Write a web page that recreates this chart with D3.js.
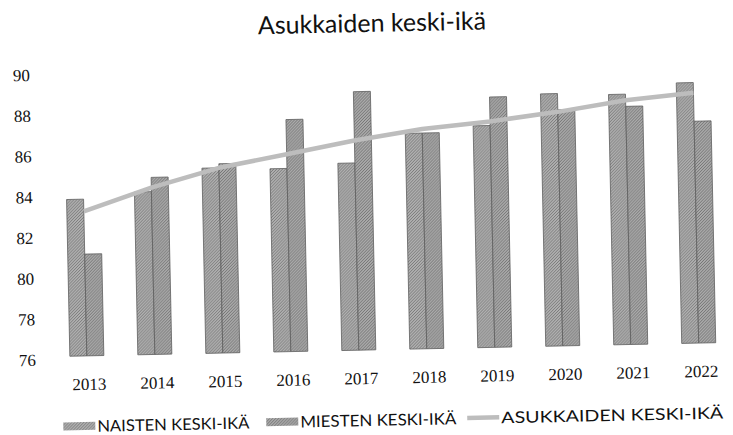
<!DOCTYPE html>
<html>
<head>
<meta charset="utf-8">
<script src="https://cdn.jsdelivr.net/npm/d3@7"></script>
<style>
  html, body { margin: 0; padding: 0; background: #fff; }
  svg { display: block; }
</style>
</head>
<body>
<svg id="chart" width="733" height="435"></svg>
<script>
const title = "Asukkaiden keski-ikä";
const years = ["2013","2014","2015","2016","2017","2018","2019","2020","2021","2022"];
const naisten = [83.7, 84.0, 85.1, 85.0, 85.2, 86.6, 86.9, 88.4, 88.3, 88.8];
const miesten = [81.0, 84.7, 85.3, 87.4, 88.7, 86.6, 88.3, 87.6, 87.7, 86.9];
const asukkaiden = [83.1, 84.2, 85.1, 85.7, 86.3, 86.8, 87.1, 87.5, 88.0, 88.3];
const yTicks = [76, 78, 80, 82, 84, 86, 88, 90];
const seriesNames = ["NAISTEN KESKI-IKÄ", "MIESTEN KESKI-IKÄ", "ASUKKAIDEN KESKI-IKÄ"];

const svg = d3.select("#chart");
// the scanned reference is slightly tilted
const root = svg.append("g").attr("transform", "rotate(-1.2, 366, 217)");

// halftone-like patterns
const defs = svg.append("defs");
function halftone(id, base, dot) {
  const p = defs.append("pattern").attr("id", id).attr("patternUnits", "userSpaceOnUse")
    .attr("width", 3).attr("height", 3);
  p.append("rect").attr("width", 3).attr("height", 3).attr("fill", base);
  p.append("rect").attr("x", 0).attr("y", 0).attr("width", 1).attr("height", 1).attr("fill", dot);
  p.append("rect").attr("x", 2).attr("y", 1).attr("width", 1).attr("height", 1).attr("fill", dot);
  p.append("rect").attr("x", 1).attr("y", 2).attr("width", 1).attr("height", 1).attr("fill", dot);
}
halftone("hN", "#b0b0b0", "#7a7a7a");
halftone("hM", "#aaaaaa", "#747474");

const x = d3.scaleBand().domain(years).range([50, 730]).paddingInner(0.5).paddingOuter(0.25);
const xs = d3.scaleBand().domain([0, 1]).range([0, x.bandwidth()]);
const y = d3.scaleLinear().domain([76, 90]).range([350, 65]);

// title
root.append("text").attr("x", 376).attr("y", 32).attr("text-anchor", "middle")
  .attr("font-family", "Lato, 'Open Sans', sans-serif").attr("font-size", 25)
  .attr("fill", "#111").text(title);

// y axis (labels only)
const yAxis = d3.axisLeft(y).tickValues(yTicks).tickSize(0).tickPadding(0);
const gy = root.append("g").attr("transform", "translate(33,0)").call(yAxis);
gy.select(".domain").remove();
gy.selectAll("text").attr("font-family", "'Liberation Serif', 'DejaVu Serif', serif")
  .attr("font-size", 17).attr("fill", "#111").attr("dy", "0.5em");

// x axis (labels only)
const xAxis = d3.axisBottom(x).tickSize(0).tickPadding(0);
const gx = root.append("g").attr("transform", "translate(2,372)").call(xAxis);
gx.select(".domain").remove();
gx.selectAll("text").attr("font-family", "'Liberation Serif', 'DejaVu Serif', serif")
  .attr("font-size", 17).attr("fill", "#111");

// bars
const series = [
  { values: naisten, idx: 0, fill: "url(#hN)" },
  { values: miesten, idx: 1, fill: "url(#hM)" }
];
series.forEach(s => {
  root.append("g").selectAll("rect").data(years).join("rect")
    .attr("x", d => x(d) + xs(s.idx))
    .attr("width", xs.bandwidth())
    .attr("y", (d, i) => y(s.values[i]))
    .attr("height", (d, i) => y(76) - y(s.values[i]))
    .attr("fill", s.fill)
    .attr("stroke", "#5e5e5e").attr("stroke-width", 0.8);
});

// line
const line = d3.line().x((d, i) => x(years[i]) + x.bandwidth() / 2).y(d => y(d));
root.append("path").datum(asukkaiden).attr("d", line)
  .attr("fill", "none").attr("stroke", "#bdbdbd").attr("stroke-width", 4.5)
  .attr("stroke-linejoin", "round");

// legend
const legY = 420;
const lg = root.append("g").attr("font-family", "Lato, 'Open Sans', sans-serif")
  .attr("font-size", 16).attr("fill", "#111");
const legX = [59, 262, 463];
const legW = [152, 156, 222];
seriesNames.forEach((name, i) => {
  if (i < 2) {
    lg.append("rect").attr("x", legX[i]).attr("y", legY - 4).attr("width", 32).attr("height", 8)
      .attr("fill", i === 0 ? "url(#hN)" : "url(#hM)");
  } else {
    lg.append("line").attr("x1", legX[i]).attr("x2", legX[i] + 32)
      .attr("y1", legY).attr("y2", legY).attr("stroke", "#bdbdbd").attr("stroke-width", 4.5);
  }
  lg.append("text").attr("x", legX[i] + 34).attr("y", legY + 6)
    .attr("textLength", legW[i]).attr("lengthAdjust", "spacingAndGlyphs").text(name);
});
</script>
</body>
</html>
